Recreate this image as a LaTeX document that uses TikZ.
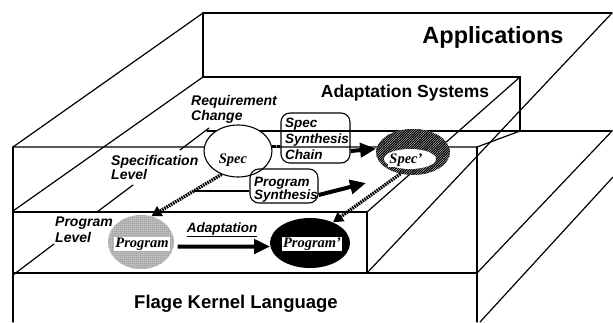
\documentclass[tikz,border=0pt]{standalone}
\usepackage{fontspec}
\setmainfont{Liberation Serif}
\setsansfont{Liberation Sans}
\usetikzlibrary{arrows.meta,patterns,shapes.geometric,calc}

% dense diagonal hatching for the adapted specification
\pgfdeclarepatternformonly{densehatch}{\pgfqpoint{-1pt}{-1pt}}{\pgfqpoint{3.4pt}{3.4pt}}{\pgfqpoint{2.4pt}{2.4pt}}{%
  \pgfsetlinewidth{1.1pt}%
  \pgfpathmoveto{\pgfqpoint{-0.2pt}{-0.2pt}}%
  \pgfpathlineto{\pgfqpoint{2.6pt}{2.6pt}}%
  \pgfusepath{stroke}}
% fine dot screen for the original program
\pgfdeclarepatternformonly{finedots}{\pgfqpoint{-0.6pt}{-0.6pt}}{\pgfqpoint{1.6pt}{1.6pt}}{\pgfqpoint{2pt}{2pt}}{%
  \pgfpathcircle{\pgfqpoint{0pt}{0pt}}{0.5pt}%
  \pgfpathcircle{\pgfqpoint{1pt}{1pt}}{0.5pt}%
  \pgfusepath{fill}}

\begin{document}
\begin{tikzpicture}[x=1pt,y=-1pt,
  edge/.style={line width=1.2pt, line cap=round},
  title/.style={font=\sffamily\bfseries, inner sep=0, anchor=base},
  lbl/.style={font=\sffamily\bfseries\itshape\fontsize{14}{15}\selectfont, inner sep=0, align=left},
  boxtxt/.style={font=\sffamily\bfseries\itshape\fontsize{13.5}{16}\selectfont, inner sep=0, align=left},
  elabel/.style={font=\rmfamily\bfseries\itshape\fontsize{14.5}{16}\selectfont, inner sep=1pt},
  roundbox/.style={draw, rounded corners=9pt, line width=1.1pt, inner sep=0},
  bigarrow/.style={line width=4pt, -{Triangle[length=16pt,width=14pt]}},
  dotarrow/.style={line width=3.4pt, dash pattern=on 1.6pt off 0.9pt, -{Triangle[length=10pt,width=11pt]}},
  dotline/.style={line width=2.8pt, dash pattern=on 1.6pt off 0.9pt}]
\useasboundingbox (0,0) rectangle (613,322);

% ---- layered blocks ----
\draw[edge] (203,13) -- (612,13);
\draw[edge] (203,13) -- (13,147);
\draw[edge] (203,13) -- (203,77) -- (520,77) -- (520,131);
\draw[edge] (203,77) -- (13,211);
\draw[edge] (13,147) -- (477,147) -- (520,131);
\draw[edge] (207,131) -- (612,131);
\draw[edge] (13,147) -- (13,322);
\draw[edge] (13,212) -- (367,212) -- (367,273);
\draw[edge] (13,273) -- (477,273);
\draw[edge] (477,147) -- (477,322);
\draw[edge] (612,131) -- (477,273);
\draw[edge] (613,177) -- (480,322);
\draw[edge] (612,13) -- (367,273);
\draw[edge] (520,77) -- (367,212);
% level boundary, broken by its labels
\draw[edge] (209,128) -- (180,150);
\draw[edge] (133,185) -- (97,212);
\draw[edge] (54,244) -- (13,275);

% ---- block titles ----
\node[title, font=\sffamily\bfseries\fontsize{23.5}{26}\selectfont] (apps) at (493,43) {Applications};
\node[title, font=\sffamily\bfseries\fontsize{17.5}{20}\selectfont] (adsys) at (405,97) {Adaptation Systems};
\node[title, font=\sffamily\bfseries\fontsize{18.5}{21}\selectfont] (kernel) at (236,308) {Flage Kernel Language};

% ---- level labels ----
\node[lbl, anchor=north west] (req) at (191,95) {Requirement\\Change};
\node[lbl, anchor=north west, font=\sffamily\bfseries\itshape\fontsize{14}{14.5}\selectfont] (speclvl) at (111,155) {Specification\\Level};
\node[lbl, anchor=north west, font=\sffamily\bfseries\itshape\fontsize{14}{15.5}\selectfont] (proglvl) at (55,217) {Program\\Level};

% ---- specification level ----
\node[ellipse, draw, fill=white, line width=1.1pt, minimum width=68pt, minimum height=52pt, inner sep=0] (spec) at (238,151) {};
\node[elabel] (spectxt) at (233,160) {Spec};

\node[roundbox, minimum width=69pt, minimum height=50pt] (ssbox) at (315.5,138) {};
\node[boxtxt, anchor=north west] (sstxt) at (285,118) {Spec\\Synthesis\\Chain};

\node[ellipse, minimum width=74pt, minimum height=46pt, inner sep=0, preaction={fill=white}, pattern=densehatch] (specp) at (413,152) {};
\fill[white] (410,159) ellipse [x radius=26pt, y radius=10pt];
\node[elabel, fill=white] (specptxt) at (406,160) {Spec'};

\node[roundbox, minimum width=68pt, minimum height=34pt] (psbox) at (284,186) {};
\node[boxtxt, anchor=north west, font=\sffamily\bfseries\itshape\fontsize{13.5}{13.5}\selectfont] (pstxt) at (254,177) {Program\\Synthesis};

% ---- program level ----
\node[ellipse, minimum width=66pt, minimum height=54pt, inner sep=0, pattern=finedots] (prog) at (141,242) {};
\node[elabel, fill=white] (progtxt) at (142,244) {Program};

\node[ellipse, fill=black, minimum width=80pt, minimum height=50pt, inner sep=0] (progp) at (310,243) {};
\node[elabel, fill=white] (progptxt) at (312,244) {Program'};

% ---- connectors ----
\draw[dotarrow] (spec.235) -- (prog.68);
\draw[dotarrow] (specp.240) -- (progp.42);
\draw[dotline] (spec.8) -- (spec.8 -| ssbox.west);
\draw[bigarrow] ([yshift=-13pt]ssbox.east) -- (specp.175);
\coordinate (pstail) at ($(spec.235)!0.4!(prog.68)$);
\draw[line width=1.4pt] (pstail) -- (pstail -| psbox.west);
\coordinate (pstip) at (366,183);
\draw[bigarrow] ([yshift=-9pt]psbox.east) -- (pstip);
\draw[bigarrow, shorten <=4pt] (prog.-8) -- (progp.185);
\node[lbl, font=\sffamily\bfseries\itshape\fontsize{13.5}{15}\selectfont] (adtxt) at (222,230) {\underline{Adaptation}};
\end{tikzpicture}
\end{document}
